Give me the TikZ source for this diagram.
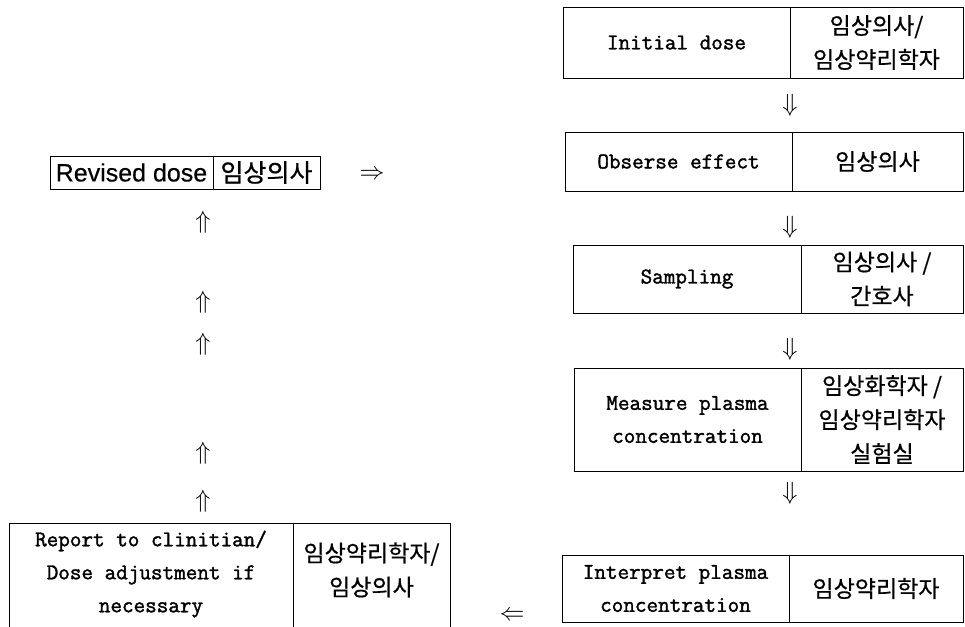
\documentclass[tikz,border=0pt]{standalone}
\usepackage{fontspec}
\newfontfamily\kr[FakeBold=0.6]{Noto Sans CJK KR}
\newfontfamily\sansf[FakeBold=0.4]{Liberation Sans}
\newfontfamily\enf[FakeBold=1.6]{Latin Modern Mono}
\begin{document}
\begin{tikzpicture}[x=1pt,y=-1pt,
  boxline/.style={draw=black, line width=0.8pt},
  cell/.style={boxline, inner sep=0pt, align=center},
  en/.style={font=\enf\fontsize{22.5}{33}\selectfont},
  ko/.style={font=\kr\fontsize{23}{34}\selectfont},
  arr/.style={font=\fontsize{32}{32}\selectfont, inner sep=0pt}]
\useasboundingbox (0,0) rectangle (965,626);
% Box 1
\node[cell, en, minimum width=227pt, minimum height=71pt] (b1l) at (676.5,42.5) {Initial dose};
\node[cell, ko, minimum width=173pt, minimum height=71pt] (b1r) at (876.5,42.5) {임상의사/\\임상약리학자};
\node[arr] (d1) at (790,105) {$\Downarrow$};
% Box 2
\node[cell, en, minimum width=227pt, minimum height=59pt] (b2l) at (678.5,161.5) {Obserse effect};
\node[cell, ko, minimum width=171pt, minimum height=59pt] (b2r) at (877.5,161.5) {임상의사};
\node[arr] (d2) at (790,227) {$\Downarrow$};
% Box 3
\node[cell, en, minimum width=228pt, minimum height=68pt] (b3l) at (687,279) {Sampling};
\node[cell, ko, minimum width=162pt, minimum height=68pt] (b3r) at (882,279) {임상의사 /\\간호사};
\node[arr] (d3) at (790,349) {$\Downarrow$};
% Box 4
\node[cell, en, minimum width=227pt, minimum height=103pt] (b4l) at (687.5,419.5) {Measure plasma\\concentration};
\node[cell, ko, minimum width=162pt, minimum height=103pt] (b4r) at (882,419.5) {임상화학자 /\\임상약리학자\\실험실};
\node[arr] (d4) at (790,493) {$\Downarrow$};
% Box 5
\node[cell, en, minimum width=227pt, minimum height=67pt] (b5l) at (675.5,588.5) {Interpret plasma\\concentration};
\node[cell, ko, minimum width=174pt, minimum height=67pt] (b5r) at (876,588.5) {임상약리학자};
\node[arr] (lft) at (512,616) {$\Leftarrow$};
% Left bottom box (open at the bottom edge of the picture)
\draw[boxline] (9,630) -- (9,523) -- (450,523) -- (450,630);
\draw[boxline] (293,523) -- (293,630);
\node[en, align=center, inner sep=0pt] (rep) at (151,574) {Report to clinitian/\\Dose adjustment if\\necessary};
\node[ko, align=center, inner sep=0pt] (repk) at (371.5,570) {임상약리학자/\\임상의사};
% Up arrows
\node[arr] (u1) at (203,501) {$\Uparrow$};
\node[arr] (u2) at (203,453) {$\Uparrow$};
\node[arr] (u3) at (203,344) {$\Uparrow$};
\node[arr] (u4) at (203,302) {$\Uparrow$};
\node[arr] (u5) at (203,222) {$\Uparrow$};
% Revised dose box
\node[cell, font=\sansf\fontsize{25}{25}\selectfont, minimum width=163pt, minimum height=33pt] (rl) at (131.5,172.5) {Revised dose};
\node[cell, font=\kr\fontsize{25}{25}\selectfont, minimum width=107pt, minimum height=33pt] (rr) at (266.5,172.5) {임상의사};
\node[arr] (rgt) at (372,175) {$\Rightarrow$};
\end{tikzpicture}
\end{document}
